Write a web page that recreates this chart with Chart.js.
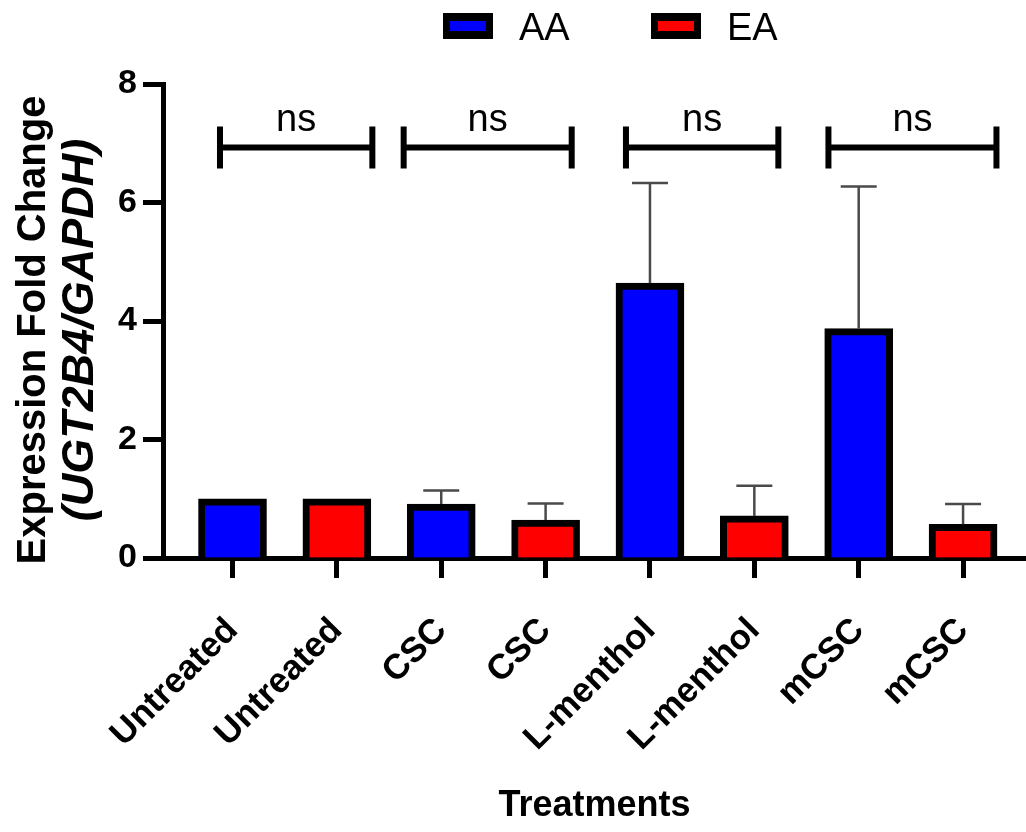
<!DOCTYPE html>
<html>
<head>
<meta charset="utf-8">
<script src="https://cdn.jsdelivr.net/npm/chart.js@4.4.1/dist/chart.umd.min.js"></script>
<style>
  html, body { margin: 0; padding: 0; background: #ffffff; }
  canvas { display: block; }
</style>
</head>
<body>
<canvas id="chart" width="1026" height="832"></canvas>
<script>
// Treatment groups and the two populations compared in each
const treatments = ["Untreated", "CSC", "L-menthol", "mCSC"];
const groups = ["AA", "EA"];

// Mean fold change (UGT2B4 / GAPDH) and upper error per treatment
const aaMean = [1.00, 0.91, 4.64, 3.87];
const aaErr  = [0.00, 0.23, 1.69, 2.40];
const eaMean = [1.00, 0.64, 0.71, 0.57];
const eaErr  = [0.00, 0.28, 0.51, 0.34];

// Axis ticks and significance labels for each AA vs EA comparison
const yTicks = [0, 2, 4, 6, 8];
const sigLabels = ["ns", "ns", "ns", "ns"];

// One tick label per bar: AA then EA for every treatment
const xLabels = treatments.flatMap(t => [t, t]);

const FONT = '"Liberation Sans", Arial, Helvetica, sans-serif';
Chart.defaults.font.family = FONT;
Chart.defaults.color = '#000000';

// Upper-only error whiskers drawn from each bar top
const errorBars = {
  id: 'errorBars',
  afterDatasetsDraw(chart, args, o) {
    const { ctx } = chart;
    const yScale = chart.scales.y;
    ctx.save();
    ctx.strokeStyle = o.color;
    ctx.lineWidth = o.width;
    chart.data.datasets.forEach((ds, di) => {
      const meta = chart.getDatasetMeta(di);
      meta.data.forEach((bar, i) => {
        const err = ds.errors[i];
        if (!err) return;
        const top = yScale.getPixelForValue(ds.data[i].y + err);
        ctx.beginPath();
        ctx.moveTo(bar.x, bar.y);
        ctx.lineTo(bar.x, top);
        ctx.moveTo(bar.x - o.cap / 2, top);
        ctx.lineTo(bar.x + o.cap / 2, top);
        ctx.stroke();
      });
    });
    ctx.restore();
  }
};

// Comparison brackets with their significance label
const sigBrackets = {
  id: 'sigBrackets',
  afterDatasetsDraw(chart, args, o) {
    const { ctx } = chart;
    const xs = chart.scales.x, ys = chart.scales.y;
    ctx.save();
    ctx.strokeStyle = '#000000';
    ctx.fillStyle = '#000000';
    ctx.lineWidth = o.width;
    ctx.font = `${o.fontSize}px ${FONT}`;
    ctx.textAlign = 'center';
    ctx.textBaseline = 'alphabetic';
    o.spans.forEach((span, i) => {
      const x1 = xs.getPixelForValue(span[0]);
      const x2 = xs.getPixelForValue(span[1]);
      const y = ys.getPixelForValue(o.level);
      ctx.beginPath();
      ctx.moveTo(x1, y); ctx.lineTo(x2, y);
      ctx.moveTo(x1, y - o.cap); ctx.lineTo(x1, y + o.cap);
      ctx.moveTo(x2, y - o.cap); ctx.lineTo(x2, y + o.cap);
      ctx.stroke();
      ctx.fillText(sigLabels[i], (x1 + x2) / 2, y - o.gap);
    });
    ctx.restore();
  }
};

// Two-line y axis title, gene names in italics
const yTitle = {
  id: 'yTitle',
  afterDraw(chart, args, o) {
    const { ctx } = chart;
    ctx.save();
    ctx.fillStyle = '#000000';
    ctx.textBaseline = 'middle';
    ctx.textAlign = 'center';
    ctx.translate(o.x1, o.cy);
    ctx.rotate(-Math.PI / 2);
    ctx.font = `bold ${o.size1}px ${FONT}`;
    ctx.fillText('Expression Fold Change', 0, 0);
    ctx.restore();

    ctx.save();
    ctx.fillStyle = '#000000';
    ctx.textBaseline = 'middle';
    ctx.textAlign = 'center';
    ctx.translate(o.x2, o.cy);
    ctx.rotate(-Math.PI / 2);
    ctx.font = `italic bold ${o.size2}px ${FONT}`;
    ctx.fillText('(UGT2B4/GAPDH)', 0, 0);
    ctx.restore();
  }
};

// Legend boxes with thick black outlines
const boxLegend = {
  id: 'boxLegend',
  afterDraw(chart, args, o) {
    const { ctx } = chart;
    ctx.save();
    ctx.font = `${o.size}px ${FONT}`;
    ctx.textAlign = 'left';
    ctx.textBaseline = 'alphabetic';
    chart.data.datasets.forEach((ds, i) => {
      const x = o.x + i * o.step;
      ctx.fillStyle = ds.borderColor;
      ctx.fillRect(x, o.y, o.w, o.h);
      ctx.fillStyle = ds.backgroundColor;
      ctx.fillRect(x + o.bw, o.y + o.bh, o.w - 2 * o.bw, o.h - 2 * o.bh);
      ctx.fillStyle = '#000000';
      ctx.fillText(ds.label, x + o.w + o.gap, o.baseline);
    });
    ctx.restore();
  }
};

const barStyle = {
  borderColor: '#000000',
  borderWidth: 7,
  borderSkipped: 'start',
  barThickness: 68,
  grouped: false
};

new Chart(document.getElementById('chart'), {
  type: 'bar',
  data: {
    datasets: [
      Object.assign({
        label: groups[0],
        data: aaMean.map((v, i) => ({ x: 2 * i, y: v })),
        errors: aaErr,
        backgroundColor: '#0000ff'
      }, barStyle),
      Object.assign({
        label: groups[1],
        data: eaMean.map((v, i) => ({ x: 2 * i + 1, y: v })),
        errors: eaErr,
        backgroundColor: '#ff0000'
      }, barStyle)
    ]
  },
  options: {
    responsive: false,
    animation: false,
    devicePixelRatio: 1,
    layout: { padding: { top: 84, right: 0, bottom: 0, left: 0 } },
    plugins: {
      legend: { display: false },
      tooltip: { enabled: false },
      errorBars: { color: '#4a4a4a', width: 2.5, cap: 36 },
      sigBrackets: {
        spans: [[-0.12, 1.34], [1.64, 3.25], [3.77, 5.23], [5.71, 7.32]],
        level: 6.93, cap: 21, width: 6, gap: 16, fontSize: 38
      },
      yTitle: { x1: 34, x2: 81, cy: 330, size1: 40, size2: 45 },
      boxLegend: { x: 443, step: 208, y: 13, w: 50, h: 26, bw: 7, bh: 8, gap: 26, baseline: 40, size: 38 }
    },
    scales: {
      x: {
        type: 'linear',
        min: -0.666,
        max: 7.603,
        offset: false,
        afterBuildTicks: s => { s.ticks = xLabels.map((_, i) => ({ value: i })); },
        afterFit: s => { s.height = 274; },
        ticks: {
          autoSkip: false,
          minRotation: 45,
          maxRotation: 45,
          padding: 32,
          color: '#000000',
          font: { size: 35, weight: 'bold' },
          callback: v => xLabels[v]
        },
        grid: { offset: false, drawOnChartArea: false, drawTicks: true, tickLength: 20, tickWidth: 5, tickColor: '#000000' },
        border: { display: true, color: '#000000', width: 5 },
        title: {
          display: true,
          text: 'Treatments',
          color: '#000000',
          font: { size: 36, weight: 'bold' },
          padding: { top: 0, bottom: 4 }
        }
      },
      y: {
        min: 0,
        max: 8,
        afterBuildTicks: s => { s.ticks = yTicks.map(v => ({ value: v })); },
        afterFit: s => { s.width = 163; },
        ticks: { padding: 6, color: '#000000', font: { size: 34, weight: 'bold' } },
        grid: { drawOnChartArea: false, drawTicks: true, tickLength: 20, tickWidth: 5, tickColor: '#000000' },
        border: { display: true, color: '#000000', width: 5 }
      }
    }
  },
  plugins: [errorBars, sigBrackets, yTitle, boxLegend]
});
</script>
</body>
</html>
